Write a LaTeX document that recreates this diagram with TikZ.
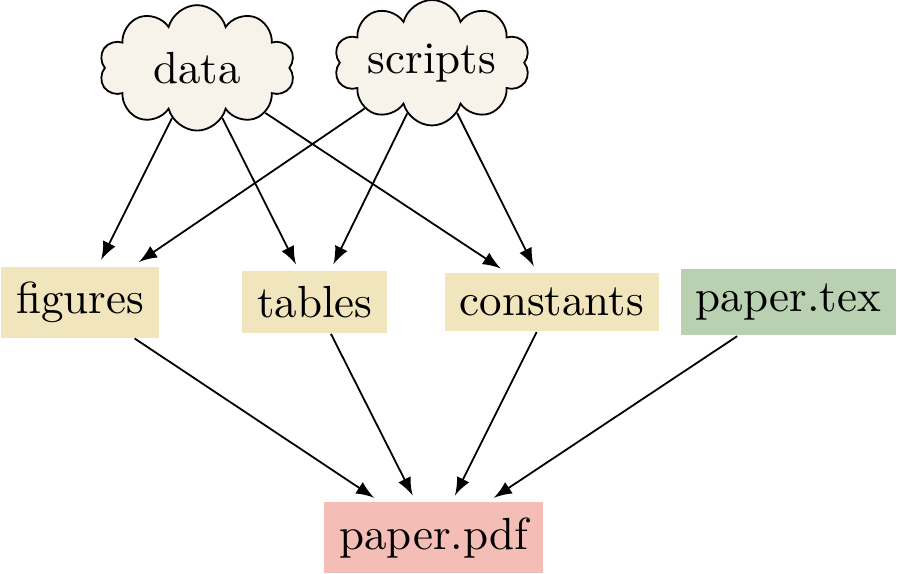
\documentclass[tikz,border=0pt]{standalone}
\usepackage{tikz}
\usetikzlibrary{arrows,backgrounds}
\usetikzlibrary{positioning}
\usetikzlibrary{shapes.symbols}
\definecolor{cloudfill}{HTML}{F7F3EB}
\definecolor{buildfill}{HTML}{F1E5BD}
\definecolor{srcfill}{HTML}{B9D1B1}
\definecolor{outfill}{HTML}{F4BDB5}
\tikzstyle{source}=[cloud, cloud puffs=10, aspect=2.2, draw=black, fill=cloudfill, minimum width=1.53cm, minimum height=0.98cm, inner sep=0pt]
\tikzstyle{target}=[rectangle, fill=buildfill]
\tikzset{>=latex}

\begin{document}
\begin{tikzpicture}
        \useasboundingbox (0, 0) rectangle (7.008, -4.484);

        % Inputs
        \node at (1.54, -0.53) [source] (data) {data};
        \node at (3.375, -0.49) [source] (scripts) {scripts};

        % Generated files
        \node at (0.625, -2.36) [target] (figures) {figures};
        \node at (2.46, -2.36) [target] (tables) {tables};
        \node at (4.31, -2.36) [target] (constants) {constants};
        \node at (6.16, -2.36) [target, fill=srcfill] (tex) {paper.tex};

        % Output
        \node at (3.39, -4.20) [target, fill=outfill] (pdf) {paper.pdf};

        % Inputs -> generated files
        \foreach \src in {data, scripts}
          \foreach \dst in {figures, tables, constants}
            \draw [->, shorten >=1.5pt] (\src) -- (\dst);

        % Everything -> paper.pdf
        \foreach \dst in {figures, tables, constants, tex}
          \draw [->, shorten >=1.5pt] (\dst) -- (pdf);
      \end{tikzpicture}
\end{document}
